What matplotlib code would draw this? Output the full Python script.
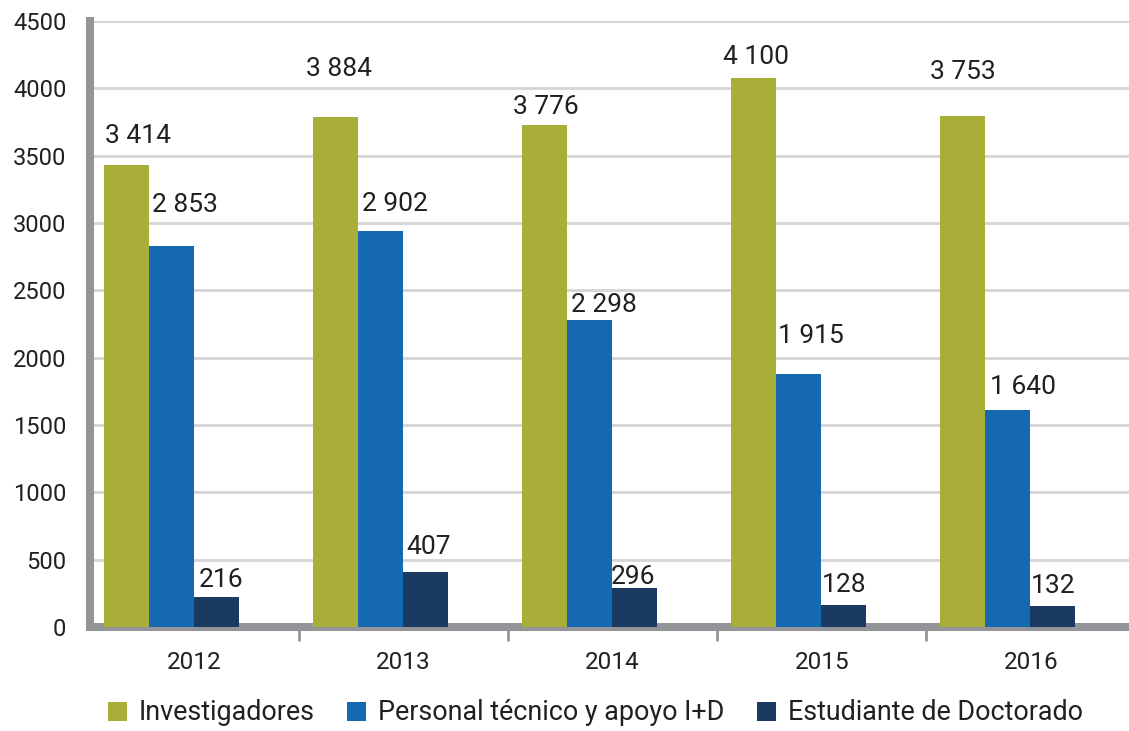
import numpy as np
import matplotlib
matplotlib.use("Agg")
import matplotlib.pyplot as plt
from matplotlib.patches import Patch

# datos
anios = ['2012', '2013', '2014', '2015', '2016']
series = ['Investigadores', 'Personal técnico y apoyo I+D', 'Estudiante de Doctorado']

# altura de las barras tal como aparecen dibujadas
investigadores = [3430, 3786, 3727, 4076, 3794]
personal_tecnico = [2829, 2940, 2279, 1878, 1611]
estudiantes = [223, 411, 290, 163, 156]

# etiquetas que muestra el grafico
etiq_investigadores = ['3 414', '3 884', '3 776', '4 100', '3 753']
etiq_personal = ['2 853', '2 902', '2 298', '1 915', '1 640']
etiq_estudiantes = ['216', '407', '296', '128', '132']

colores = ['#a9ae39', '#1469b1', '#1a3a62']
gris_eje = '#939598'
gris_rejilla = '#d5d5d5'
color_texto = '#231f20'

# desplazamiento de cada etiqueta respecto a la cima de la barra (pixeles)
desp_x = [[11, 3, 1, 2, 0], [13, 14, 14, 12, 15], [5, 3, -2, 0, 0]]
desp_y = [[29, 48, 18, 21, 44], [41, 27, 15, 38, 23], [17, 25, 11, 20, 20]]

plt.rcParams['font.family'] = ['Roboto', 'DejaVu Sans']

fig = plt.figure(figsize=(11.29, 7.31), dpi=100)
ax = fig.add_axes([90 / 1129, 104 / 731, 1039 / 1129, 606 / 731])

x = np.arange(len(anios))
ancho = 0.215
centro = -0.11
datos = [investigadores, personal_tecnico, estudiantes]
etiquetas = [etiq_investigadores, etiq_personal, etiq_estudiantes]

for i, (valores, etiq) in enumerate(zip(datos, etiquetas)):
    pos = x + centro + (i - 1) * ancho
    ax.bar(pos, valores, width=ancho, color=colores[i], zorder=3, linewidth=0)
    for j in range(len(anios)):
        ax.annotate(etiq[j], (pos[j], valores[j]),
                    xytext=(desp_x[i][j], desp_y[i][j]), textcoords='offset pixels',
                    ha='center', va='center', fontsize=19, color=color_texto, zorder=4)

ax.set_xlim(-0.5, 4.47)
ax.set_ylim(0, 4500)
ax.set_yticks(np.arange(0, 4501, 500))
ax.set_yticklabels([str(v) for v in range(0, 4501, 500)])
ax.yaxis.grid(True, color=gris_rejilla, linewidth=2, zorder=0)
ax.set_axisbelow(True)

ax.set_xticks(x)
ax.set_xticklabels(anios)
ax.set_xticks(np.arange(0.5, 4.0, 1.0), minor=True)
ax.tick_params(axis='x', which='major', length=0, pad=17, labelsize=17.5, colors=color_texto)
ax.tick_params(axis='x', which='minor', length=10, width=2, color=gris_eje)
ax.tick_params(axis='y', length=0, pad=17, labelsize=17, colors=color_texto)

for lado in ['top', 'right']:
    ax.spines[lado].set_visible(False)
for lado in ['left', 'bottom']:
    ax.spines[lado].set_color(gris_eje)
    ax.spines[lado].set_linewidth(5.8)
    ax.spines[lado].set_zorder(2)
ax.spines['bottom'].set_capstyle('butt')

handles = [Patch(facecolor=c, edgecolor='none') for c in colores]
fig.legend(handles, series, loc='center left', bbox_to_anchor=(108 / 1129, 18 / 731),
           ncol=3, frameon=False, fontsize=19.4, handlelength=0.7, handleheight=0.7,
           handletextpad=0.45, columnspacing=1.2, borderpad=0, borderaxespad=0,
           labelcolor=color_texto)

fig.savefig('out.png', dpi=100)
